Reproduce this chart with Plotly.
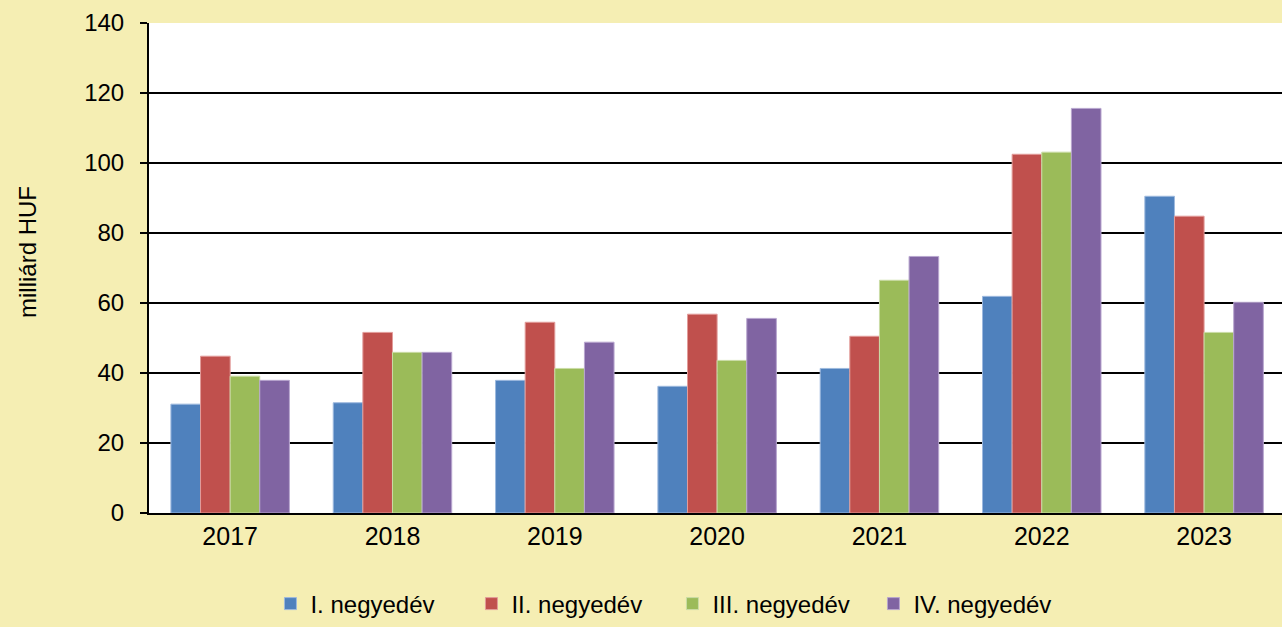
import plotly.graph_objects as go

years = ["2017", "2018", "2019", "2020", "2021", "2022", "2023"]
series_names = ["I. negyedév", "II. negyedév", "III. negyedév", "IV. negyedév"]
q1 = [31.1, 31.5, 37.9, 36.2, 41.3, 61.9, 90.5]
q2 = [44.8, 51.6, 54.5, 56.8, 50.5, 102.5, 84.8]
q3 = [39.1, 45.9, 41.3, 43.6, 66.5, 103.1, 51.6]
q4 = [37.9, 45.9, 48.8, 55.6, 73.3, 115.6, 60.2]
y_ticks = [0, 20, 40, 60, 80, 100, 120, 140]

colors = ["#4F81BD", "#C0504D", "#9BBB59", "#8064A2"]
edge_colors = ["#9DB9DE", "#E29C9A", "#CADCA6", "#B8A6CF"]
bg = "#F5EEB3"
font_family = "Liberation Sans, Arial, sans-serif"

fig = go.Figure()
for name, vals, c, ec in zip(series_names, [q1, q2, q3, q4], colors, edge_colors):
    fig.add_trace(go.Bar(
        x=years, y=vals, name=name,
        marker=dict(color=c, line=dict(color=ec, width=1)),
    ))

fig.update_layout(
    width=1282, height=627,
    paper_bgcolor=bg, plot_bgcolor="white",
    barmode="group", bargap=0.27, bargroupgap=0,
    margin=dict(l=149, r=0, t=23, b=114),
    font=dict(family=font_family, size=24, color="black"),
    showlegend=True,
    legend=dict(
        orientation="h", x=0.462, xanchor="center",
        y=(513 - 626.5) / 490, yanchor="bottom",
        font=dict(family=font_family, size=24, color="black"),
        bgcolor="rgba(0,0,0,0)", itemwidth=30, entrywidth=156,
    ),
    annotations=[dict(
        text="milliárd HUF", textangle=-90, showarrow=False,
        xref="paper", yref="paper",
        x=(27 - 149) / 1133, y=(513 - 252) / 490,
        xanchor="center", yanchor="middle",
        font=dict(family=font_family, size=24, color="black"),
    )],
)
fig.update_xaxes(
    type="category", range=[-0.5, 6.48],
    showline=True, linecolor="black", linewidth=2,
    showgrid=False, ticks="", ticklabelstandoff=0,
    tickfont=dict(size=25),
)
fig.update_yaxes(
    range=[0, 140], tickvals=y_ticks,
    showline=True, linecolor="black", linewidth=2,
    showgrid=True, gridcolor="black", gridwidth=2,
    zeroline=False,
    ticks="outside", ticklen=7, tickwidth=2, tickcolor="black",
    ticklabelstandoff=11,
    tickfont=dict(size=24),
)

fig.write_html(
    "out.html",
    config={"displayModeBar": False},
    post_script="document.body.style.margin='0';document.body.style.padding='0';",
)
